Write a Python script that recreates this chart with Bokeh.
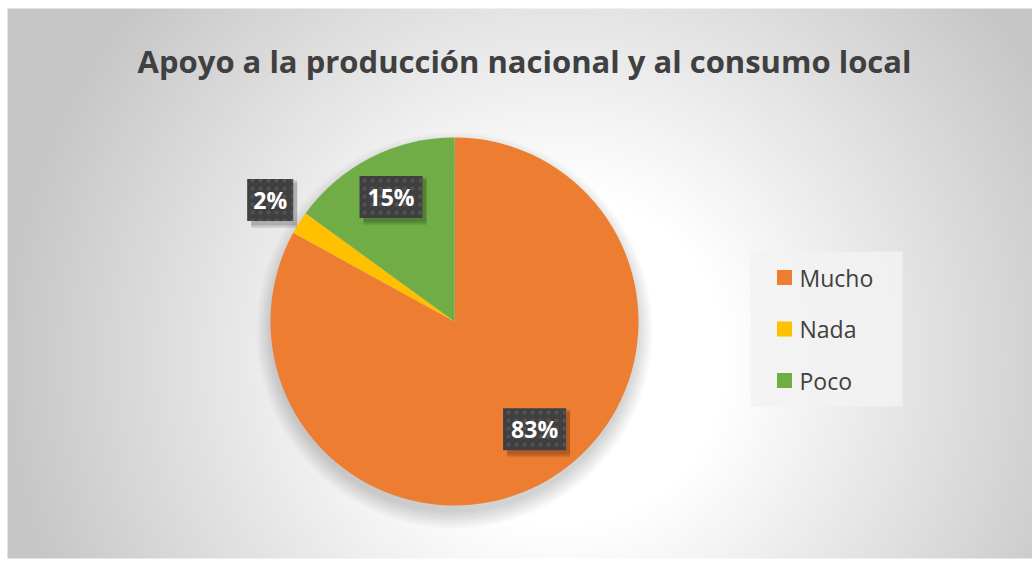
import numpy as np
from bokeh.plotting import figure
from bokeh.models import Range1d, ColumnDataSource, Label
from bokeh.core.properties import value
from bokeh.embed import file_html
from bokeh.resources import INLINE

# ---- data ----
title_text = "Apoyo a la producción nacional y al consumo local"
categories = ["Mucho", "Nada", "Poco"]
shares = [83, 2, 15]
colors = ["#ED7D31", "#FFC000", "#70AD47"]

# label placement style (relative to pie radius / bisector)
label_radius_factor = [0.73, 1.2, 0.76]
label_angle_shift_deg = [6.0, -1.0, 0.0]

W, H = 1032, 561
p = figure(width=W, height=H, x_range=Range1d(0, W), y_range=Range1d(0, H),
           output_backend="svg", toolbar_location=None, min_border=0)
p.axis.visible = False
p.grid.visible = False
p.outline_line_color = None
p.background_fill_color = "#ffffff"
p.border_fill_color = "#ffffff"

# ---- background radial gradient (chart area) ----
bx0, by0, bw_, bh_ = 7, 3, 1025, 550
rows, cols = np.mgrid[0:bh_, 0:bw_]
X = bx0 + cols
PY = H - (by0 + rows)  # page y
d = np.sqrt(((X - 560.0) / 560.0) ** 2 + ((PY - 360.0) / 560.0) ** 2)
v = 255 - 57 * np.clip((d - 0.3) / 0.7, 0, None)
v = np.clip(v, 198, 255).astype(np.uint32)
img = (255 << 24) | (v << 16) | (v << 8) | v
p.image_rgba(image=[img.astype(np.uint32)], x=bx0, y=by0, dw=bw_, dh=bh_)

# ---- pie ----
cx, cy, R = 454.0, 240.0, 184.0
total = float(sum(shares))
fr = [s / total for s in shares]
cum = np.cumsum([0.0] + fr)
start = [np.pi / 2 - 2 * np.pi * cum[i] for i in range(len(fr))]
end = [np.pi / 2 - 2 * np.pi * cum[i + 1] for i in range(len(fr))]

# soft shadow under pie
for i in range(9):
    p.circle(x=[cx], y=[cy - 9], radius=R - 2 + i * 2.0,
             fill_color="#000000", fill_alpha=0.02, line_color=None)

src = ColumnDataSource(dict(cat=categories, start=start, end=end, color=colors))
p.wedge(x=cx, y=cy, radius=R, start_angle="start", end_angle="end",
        direction="clock", fill_color="color", line_color=None, source=src)

# ---- data labels ----
mid = [(a + b) / 2 + np.radians(s) for a, b, s in zip(start, end, label_angle_shift_deg)]
lx = [cx + R * f * np.cos(m) for f, m in zip(label_radius_factor, mid)]
ly = [cy + R * f * np.sin(m) for f, m in zip(label_radius_factor, mid)]
lab = [f"{s}%" for s in shares]
bw = [12 + 17 * len(t) for t in lab]
lsrc = ColumnDataSource(dict(x=lx, y=ly, t=lab, w=bw,
                             sx=[x + 4 for x in lx], sy=[y - 4 for y in ly]))
for k in range(3):
    p.rect(x="sx", y="sy", width="w", height=42 + k * 3, source=lsrc,
           fill_color="#000000", fill_alpha=0.09, line_color=None)
p.rect(x="x", y="y", width="w", height=42, source=lsrc,
       fill_color="#404040", line_color=None,
       hatch_pattern="dot", hatch_color="#525252", hatch_scale=8, hatch_weight=1.5)
p.text(x="x", y="y", text="t", source=lsrc, text_align="center",
       text_baseline="middle", text_color="#ffffff",
       text_font=value("Open Sans"), text_font_style="bold",
       text_font_size="23px")

# ---- legend (manual) ----
p.quad(left=[750], right=[902], bottom=[155], top=[310],
       fill_color="#f2f2f2", fill_alpha=0.85, line_color=None)
leg_y = [284 - 51.5 * i for i in range(len(categories))]
legsrc = ColumnDataSource(dict(x=[784] * 3, y=leg_y, tx=[799] * 3,
                               cat=categories, color=colors))
p.rect(x="x", y="y", width=15, height=15, source=legsrc,
       fill_color="color", line_color=None)
p.text(x="tx", y="y", text="cat", source=legsrc, text_align="left",
       text_baseline="middle", text_color="#404040",
       text_font=value("Open Sans"), text_font_size="23px")

# ---- title ----
p.add_layout(Label(x=524, y=501, text=title_text, text_align="center",
                   text_baseline="alphabetic", text_color="#404040",
                   text_font="Open Sans", text_font_style="bold",
                   text_font_size="31px"))

open("out.html", "w").write(file_html(p, INLINE))
